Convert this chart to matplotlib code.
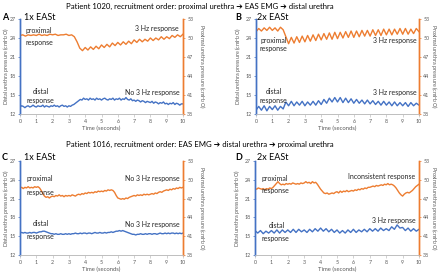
import numpy as np
import matplotlib
matplotlib.use("Agg")
import matplotlib.pyplot as plt

plt.rcParams['font.family'] = ['Lato', 'DejaVu Sans']

ORANGE = '#ED7D31'
BLUE = '#4472C4'
GRAY = '#595959'

# ---------------- data ----------------
left_ticks = [12, 15, 18, 21, 24, 27]
right_ticks = [38, 41, 44, 47, 50, 53]
x_ticks = list(range(0, 11))

# Panel A (Patient 1020, 1x EASt)
a_prox = [50.4, 50.5, 50.3, 50.5, 50.4, 50.5, 50.4, 50.6, 50.4, 50.5,
          50.4, 50.6, 50.5, 50.6, 50.4, 50.5, 50.5, 50.6, 50.4, 50.5,
          50.2, 49.4, 48.4, 48.0, 48.5, 48.1, 48.6, 48.2, 48.7, 48.3,
          48.9, 48.5, 49.0, 48.6, 49.2, 48.8, 49.3, 48.9, 49.4, 49.0,
          49.5, 49.1, 49.7, 49.3, 49.8, 49.4, 49.8, 49.5, 50.0, 49.6,
          50.0, 49.7, 50.2, 49.8, 50.2, 49.9, 50.4, 50.1, 50.5, 50.2, 50.6]
a_dist = [13.1, 13.3, 13.2, 13.0, 13.2, 13.3, 13.1, 13.2, 13.4, 13.2,
          13.1, 13.3, 13.2, 13.2, 13.4, 13.1, 13.3, 13.2, 13.1, 13.3,
          13.2, 13.4, 13.2, 13.3, 13.1, 13.3, 13.4, 13.2, 13.3, 13.1,
          13.3, 13.2, 13.4, 13.5, 13.7, 13.9, 14.1, 14.3, 14.2, 14.5,
          14.3, 14.4, 14.2, 14.5, 14.3, 14.4, 14.2, 14.5, 14.3, 14.4,
          14.2, 14.4, 14.5, 14.3, 14.2, 14.4, 14.3, 14.5, 14.2, 14.4,
          14.3, 14.5, 14.2, 14.4, 14.3, 14.6, 14.3, 14.2, 14.4, 14.1,
          14.2, 14.0, 14.2, 14.1, 13.9, 14.1, 14.0, 13.8, 14.0, 13.9,
          13.8, 14.0, 13.7, 13.9, 13.8, 13.6, 13.8, 13.7, 13.9, 13.6,
          13.7, 13.5, 13.7, 13.6, 13.8, 13.5, 13.7, 13.6, 13.4, 13.6, 13.6]

# Panel B (Patient 1020, 2x EASt)
b_prox = [51.0, 51.5, 51.1, 51.6, 51.2, 51.7, 51.2, 51.6, 51.1, 51.7, 51.3,
          50.2, 49.1, 50.1, 49.2, 50.2, 49.3, 50.3, 49.4, 50.4, 49.5,
          50.5, 49.6, 50.6, 49.7, 50.7, 49.8, 50.8, 49.8, 50.9, 49.9,
          50.9, 50.0, 51.0, 50.1, 51.1, 50.1, 51.1, 50.2, 51.2, 50.3,
          51.2, 50.3, 51.3, 50.4, 51.3, 50.4, 51.4, 50.5, 51.4, 50.5,
          51.4, 50.6, 51.5, 50.6, 51.5, 50.6, 51.4, 50.7, 51.5, 51.0]
b_dist = [12.6, 13.2, 12.6, 13.3, 12.5, 13.2, 12.7, 13.3, 12.6, 13.2, 12.8,
          13.9, 13.3, 14.0, 13.3, 13.9, 13.4, 14.0, 13.3, 13.9, 13.4, 14.0,
          13.4, 14.1, 13.5, 14.3, 13.7, 14.5, 13.9, 14.6, 13.9, 14.6, 13.8,
          14.5, 13.8, 14.4, 13.7, 14.3, 13.7, 14.2, 13.6, 14.2, 13.6, 14.1,
          13.5, 14.0, 13.4, 14.0, 13.4, 13.9, 13.3, 13.9, 13.3, 13.8, 13.3,
          13.8, 13.2, 13.8, 13.3, 13.7, 13.4]

# Panel C (Patient 1016, 1x EASt)
c_prox = [48.7, 48.8, 48.6, 48.8, 48.7, 48.9, 48.7, 48.8, 48.7, 48.9,
          48.8, 48.9, 48.7, 48.3, 47.8, 47.4, 47.2, 47.3, 47.1, 47.3,
          47.4, 47.3, 47.5, 47.4, 47.6, 47.4, 47.5, 47.3, 47.5, 47.4,
          47.5, 47.4, 47.6, 47.5, 47.4, 47.6, 47.7, 47.6, 47.8, 47.7,
          47.9, 47.8, 48.0, 47.9, 48.0, 47.9, 48.1, 48.0, 48.2, 48.1,
          48.2, 48.1, 48.3, 48.2, 48.4, 48.3, 48.4, 48.3, 48.0, 47.5,
          47.1, 47.0, 46.9, 47.0, 46.9, 47.1, 47.0, 47.2, 47.3, 47.4,
          47.5, 47.4, 47.6, 47.5, 47.6, 47.5, 47.7, 47.6, 47.7, 47.6,
          47.7, 47.8, 47.7, 47.9, 47.8, 48.0, 48.1, 48.0, 48.2, 48.3,
          48.4, 48.3, 48.5, 48.4, 48.6, 48.5, 48.7, 48.6, 48.8, 48.7, 48.8]
c_dist = [15.5, 15.6, 15.5, 15.6, 15.5, 15.5, 15.6, 15.5, 15.6, 15.6,
          15.5, 15.6, 15.7, 15.7, 15.8, 15.8, 15.7, 15.6, 15.5, 15.4,
          15.4, 15.3, 15.4, 15.3, 15.3, 15.4, 15.3, 15.3, 15.4, 15.3,
          15.4, 15.3, 15.4, 15.4, 15.5, 15.4, 15.4, 15.5, 15.4, 15.5,
          15.5, 15.4, 15.5, 15.5, 15.4, 15.5, 15.6, 15.5, 15.5, 15.6,
          15.5, 15.5, 15.6, 15.5, 15.6, 15.6, 15.7, 15.6, 15.7, 15.8,
          15.8, 15.9, 15.8, 15.9, 15.8, 15.7, 15.6, 15.5, 15.4, 15.3,
          15.3, 15.2, 15.3, 15.3, 15.4, 15.3, 15.3, 15.4, 15.3, 15.4,
          15.4, 15.3, 15.4, 15.4, 15.3, 15.4, 15.5, 15.4, 15.4, 15.5,
          15.4, 15.5, 15.4, 15.5, 15.5, 15.4, 15.5, 15.4, 15.5, 15.4, 15.5]

# Panel D (Patient 1016, 2x EASt)
d_prox = [48.6, 48.5, 48.7, 48.6, 48.5, 48.6, 48.4, 48.6, 48.5, 48.7,
          48.6, 48.8, 49.1, 49.4, 49.7, 49.4, 49.2, 49.3, 49.2, 49.4,
          49.3, 49.4, 49.3, 49.5, 49.4, 49.3, 49.4, 49.3, 49.5, 49.4,
          49.5, 49.7, 49.5, 49.6, 49.4, 49.7, 49.5, 49.6, 49.3, 48.9,
          48.5, 48.2, 47.9, 47.8, 47.9, 47.7, 47.8, 47.9, 47.8, 48.0,
          48.1, 47.9, 48.2, 48.0, 48.2, 48.1, 48.3, 48.1, 48.2, 48.3,
          48.2, 48.4, 48.3, 48.5, 48.4, 48.6, 48.5, 48.7, 48.6, 48.8,
          48.8, 48.9, 49.0, 48.9, 49.1, 49.0, 49.1, 49.2, 49.1, 49.3,
          49.2, 49.4, 49.2, 49.3, 49.2, 49.0, 48.7, 48.3, 47.9, 47.6,
          47.4, 47.7, 47.9, 48.0, 47.9, 48.1, 48.3, 48.6, 48.9, 49.1, 49.3]
d_dist = [15.9, 15.5, 15.9, 15.4, 15.8, 15.5, 15.9, 15.5, 16.0, 15.5, 16.0,
          15.6, 16.0, 15.6, 16.1, 15.6, 16.1, 15.7, 16.0, 15.6, 16.1, 15.7,
          16.2, 15.8, 16.3, 15.8, 16.2, 15.7, 16.1, 15.6, 16.0, 15.5, 15.9,
          15.5, 16.0, 15.6, 16.1, 15.6, 16.0, 15.7, 16.1, 15.7, 16.2, 15.8,
          16.2, 15.8, 16.3, 15.9, 16.2, 15.9, 16.5, 16.1, 16.8, 16.3, 16.4,
          15.9, 16.3, 15.8, 16.2, 15.8, 16.1]

titles = ["Patient 1020, recruitment order: proximal urethra \u2794 EAS EMG \u2794 distal urethra",
          "Patient 1016, recruitment order: EAS EMG \u2794 distal urethra \u2794 proximal urethra"]

# ---------------- figure ----------------
W, H = 440, 274
fig = plt.figure(figsize=(W / 100, H / 100), dpi=100)


def px(x0, y0, x1, y1):
    return [x0 / W, 1 - y1 / H, (x1 - x0) / W, (y1 - y0) / H]


def ftxt(x, y, s, size=5, **kw):
    kw.setdefault('ha', 'center')
    kw.setdefault('va', 'center')
    kw.setdefault('color', '#262626')
    fig.text(x / W, 1 - y / H, s, fontsize=size, **kw)


panels = [
    dict(rect=(20, 19, 183, 114), prox=a_prox, dist=a_dist, letter='A', sub='1x EASt',
         lx=5, ly=17, sx=40, lyl=6, ryl=202,
         texts=[(38.5, 30, 'proximal'), (39, 43, 'response'), (156.5, 29, '3 Hz response'),
                (40.5, 91, 'distal'), (40, 100, 'response'), (152, 93, 'No 3 Hz response')]),
    dict(rect=(256, 19, 419, 114), prox=b_prox, dist=b_dist, letter='B', sub='2x EASt',
         lx=238, ly=17, sx=273, lyl=238, ryl=434,
         texts=[(273.5, 40, 'proximal'), (273, 49, 'response'), (394.5, 41, '3 Hz response'),
                (274, 91, 'distal'), (273, 100, 'response'), (394.5, 93, '3 Hz response')]),
    dict(rect=(20, 161, 183, 255), prox=c_prox, dist=c_dist, letter='C', sub='1x EASt',
         lx=5, ly=158, sx=40, lyl=6, ryl=202,
         texts=[(40, 179, 'proximal'), (40, 192, 'response'), (152, 179, 'No 3 Hz response'),
                (40.5, 224, 'distal'), (40, 236, 'response'), (152, 224, 'No 3 Hz response')]),
    dict(rect=(255, 161, 419, 255), prox=d_prox, dist=d_dist, letter='D', sub='2x EASt',
         lx=239, ly=158, sx=273, lyl=237, ryl=434,
         texts=[(275, 179, 'proximal'), (275, 191, 'response'), (382, 176, 'Inconsistent response'),
                (276.5, 225, 'distal'), (275, 238, 'response'), (393.5, 220, '3 Hz response')]),
]

for p in panels:
    x0, y0, x1, y1 = p['rect']
    ax = fig.add_axes(px(x0, y0, x1, y1))
    ax2 = ax.twinx()
    t_d = np.linspace(0, 10, len(p['dist']))
    t_p = np.linspace(0, 10, len(p['prox']))
    ax.plot(t_d, p['dist'], color=BLUE, lw=1.0)
    ax2.plot(t_p, p['prox'], color=ORANGE, lw=1.0)
    ax.set_xlim(0, 10)
    ax.set_ylim(12, 27)
    ax2.set_ylim(38, 53)
    ax.set_xticks(x_ticks)
    ax.set_yticks(left_ticks)
    ax2.set_yticks(right_ticks)
    for a in (ax, ax2):
        a.patch.set_visible(False)
        a.spines['top'].set_visible(False)
        a.spines['left'].set_color(BLUE)
        a.spines['right'].set_color(ORANGE)
        a.spines['left'].set_linewidth(1.0)
        a.spines['right'].set_linewidth(1.0)
        a.spines['bottom'].set_color('#BFBFBF')
        a.spines['bottom'].set_linewidth(0.6)
    ax.tick_params(axis='x', labelsize=3.8, colors=GRAY, length=2, width=0.5, pad=1.5,
                   color='#BFBFBF')
    ax.tick_params(axis='y', labelsize=3.8, colors=GRAY, length=1.5, width=0.5, pad=1.5,
                   color=BLUE)
    ax2.tick_params(axis='y', labelsize=3.8, colors=GRAY, length=1.5, width=0.5, pad=1.5,
                    color=ORANGE)
    yc = (y0 + y1) / 2
    ftxt(p['lyl'], yc, 'Distal urethra pressure (cmH$_2$O)', size=3.9, rotation=90, color=GRAY)
    ftxt(p['ryl'], yc, 'Proximal urethra pressure (cmH$_2$O)', size=3.9, rotation=270, color=GRAY)
    ftxt((x0 + x1) / 2, y1 + 14, 'Time (seconds)', size=4.2, color=GRAY)
    ftxt(p['lx'], p['ly'], p['letter'], size=6.5, weight='bold', color='black')
    ftxt(p['sx'], p['ly'], p['sub'], size=6.5, color='black')
    for (tx, ty, s) in p['texts']:
        ftxt(tx, ty, s, size=5)

ftxt(200, 6, titles[0], size=5.6, color='black')
ftxt(200, 144, titles[1], size=5.6, color='black')

fig.savefig('out.png', dpi=100)
